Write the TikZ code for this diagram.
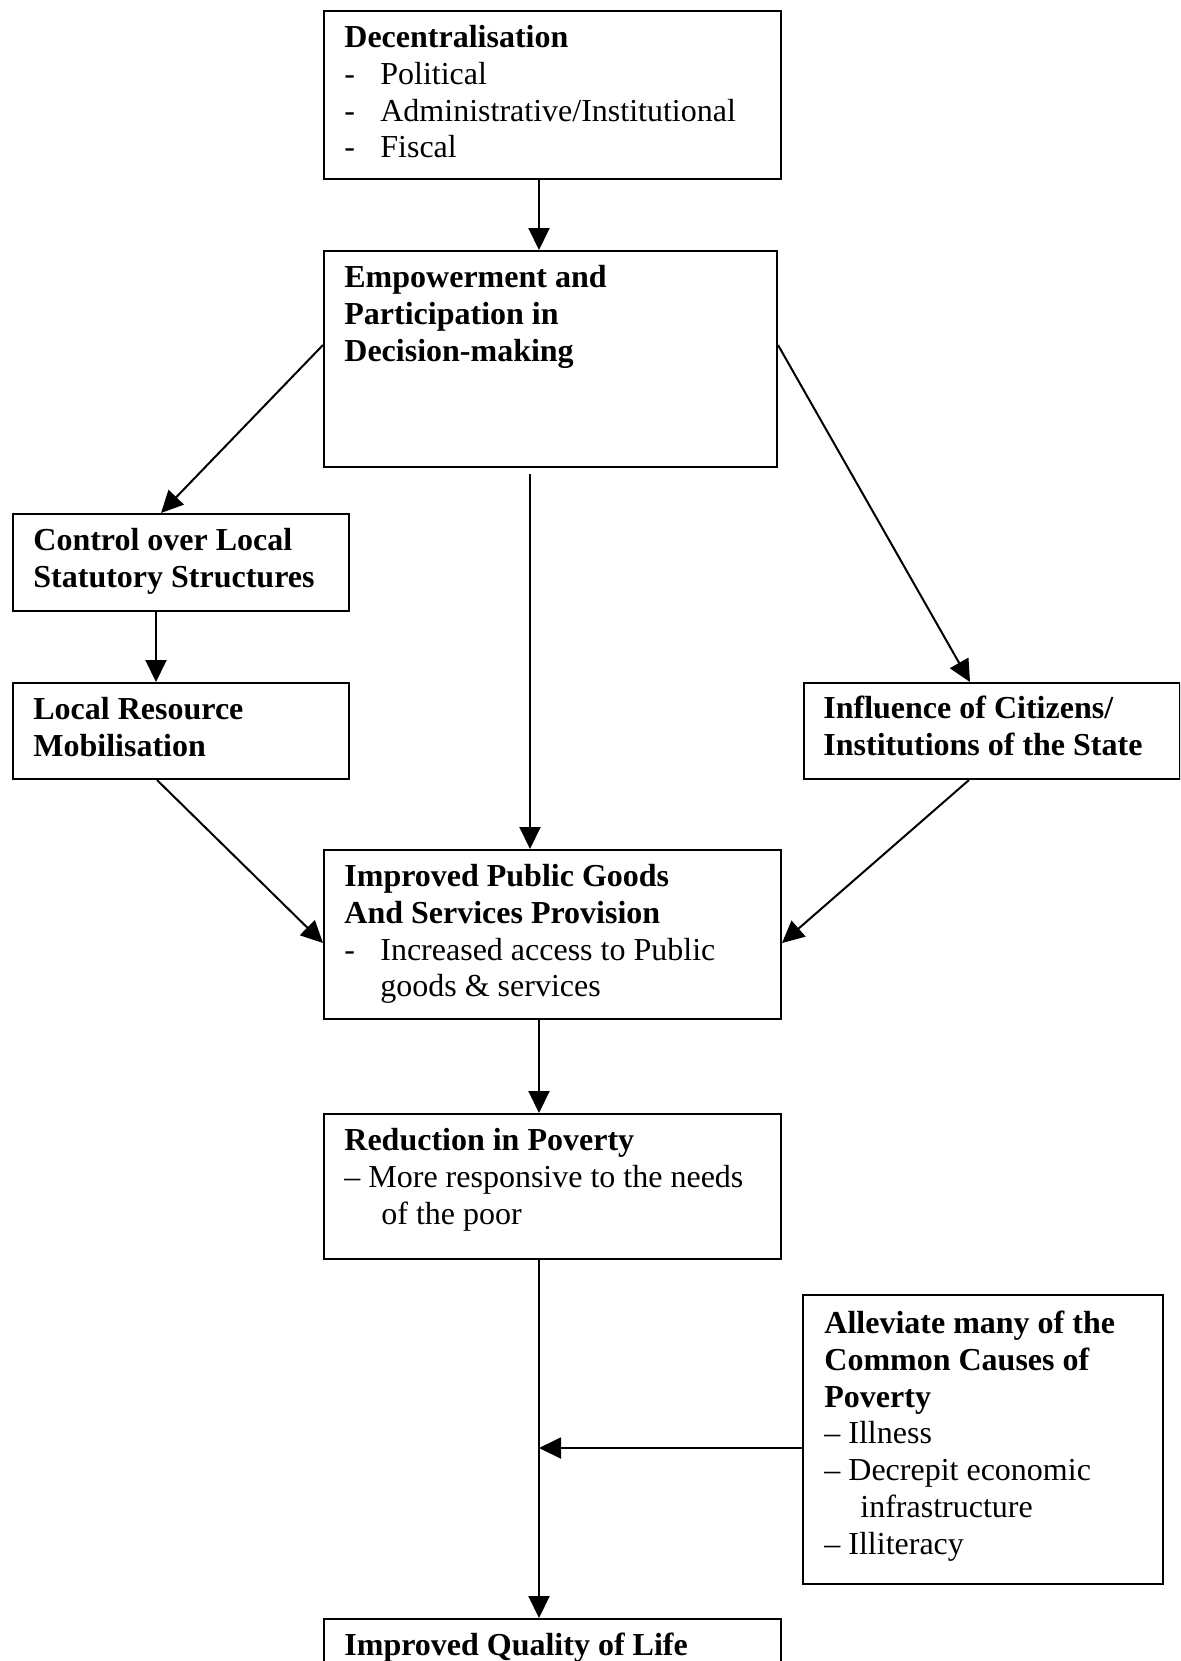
\documentclass[tikz,border=0pt]{standalone}
\usepackage{fontspec}
\setmainfont{Liberation Serif}
\usetikzlibrary{arrows.meta,calc}
\newcommand\flh{\rule{0pt}{12pt}}
\tikzset{
  boxnode/.style={draw, line width=1pt, rectangle, inner sep=0pt, anchor=north west},
  txt/.style={inner sep=0pt, anchor=north west, align=left, font=\fontsize{16}{18.4}\selectfont},
  arr/.style={line width=1pt, -{Triangle[length=11pt,width=10.5pt]}},
}
\begin{document}
\begin{tikzpicture}[x=0.5pt,y=-0.5pt]
\useasboundingbox (0,0) rectangle (1180,1661);
\clip (0,0) rectangle (1180,1661);
\fill[white] (0,0) rectangle (1180,1661);
% boxes
\node[boxnode, minimum width=228.5pt, minimum height=84pt] (b1) at (323,10) {};
\node[boxnode, minimum width=226.5pt, minimum height=108pt] (b2) at (323,250) {};
\node[boxnode, minimum width=168pt, minimum height=48.5pt] (b3) at (12,513) {};
\node[boxnode, minimum width=168pt, minimum height=48pt] (b4) at (12,682) {};
\node[boxnode, minimum width=187.75pt, minimum height=48pt] (b5) at (803,682) {};
\node[boxnode, minimum width=228.5pt, minimum height=84.5pt] (b6) at (323,849) {};
\node[boxnode, minimum width=228.5pt, minimum height=72.5pt] (b7) at (323,1113) {};
\node[boxnode, minimum width=180pt, minimum height=144.5pt] (b8) at (802,1294) {};
\node[boxnode, minimum width=228.5pt, minimum height=60pt] (b9) at (323,1618) {};
% texts
\node[txt] (t1) at (344,23) {\flh\textbf{Decentralisation}\\
  \makebox[18pt][l]{-}Political\\
  \makebox[18pt][l]{-}Administrative/Institutional\\
  \makebox[18pt][l]{-}Fiscal};
\node[txt] (t2) at (344,263) {\flh\textbf{Empowerment and}\\
  \textbf{Participation in}\\
  \textbf{Decision-making}};
\node[txt] (t3) at (33,526) {\flh\textbf{Control over Local}\\
  \textbf{Statutory Structures}};
\node[txt] (t4) at (33,695) {\flh\textbf{Local Resource}\\
  \textbf{Mobilisation}};
\node[txt] (t5) at (823,694) {\flh\textbf{Influence of Citizens/}\\
  \textbf{Institutions of the State}};
\node[txt] (t6) at (344,862) {\flh\textbf{Improved Public Goods}\\
  \textbf{And Services Provision}\\
  \makebox[18pt][l]{-}Increased access to Public\\
  \hspace*{18pt}goods \& services};
\node[txt] (t7) at (344,1126) {\flh\textbf{Reduction in Poverty}\\
  – More responsive to the needs\\
  \hspace*{18.5pt}of the poor};
\node[txt] (t8) at (824,1309) {\flh\textbf{Alleviate many of the}\\
  \textbf{Common Causes of}\\
  \textbf{Poverty}\\
  – Illness\\
  – Decrepit economic\\
  \hspace*{18pt}infrastructure\\
  – Illiteracy};
\node[txt] (t9) at (344,1631) {\flh\textbf{Improved Quality of Life}};
% column coordinates
\coordinate (cx) at (539,0);
\coordinate (lx) at (156,0);
\coordinate (mx) at (530,0);
\coordinate (jn) at (539,1448);
% connectors
\draw[arr] (b1.south -| cx) -- (b2.north -| cx);
\draw[arr] ($(b2.north west)+(0,95)$) -- ($(b3.north west)+(149,0)$);
\draw[arr] (b3.south -| lx) -- (b4.north -| lx);
\draw[arr] ($(b2.south -| mx)+(0,6)$) -- (b6.north -| mx);
\draw[arr] ($(b2.north east)+(0,95)$) -- ($(b5.north west)+(167,0)$);
\draw[arr] ($(b4.south west)+(145,0)$) -- ($(b6.north west)+(0,94)$);
\draw[arr] ($(b5.south west)+(166,0)$) -- ($(b6.north east)+(0,94)$);
\draw[arr] (b6.south -| cx) -- (b7.north -| cx);
\draw[arr] (b7.south -| cx) -- (b9.north -| cx);
\draw[arr] (b8.west |- jn) -- (jn);
\end{tikzpicture}
\end{document}
